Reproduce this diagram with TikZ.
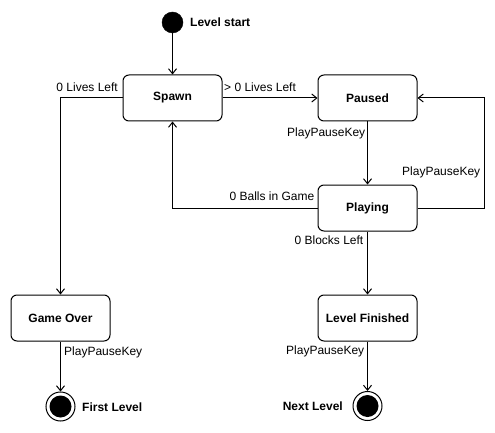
\documentclass[tikz,border=0pt]{standalone}
\usepackage{fontspec}
\setmainfont{Liberation Sans}
\usetikzlibrary{arrows.meta}
\begin{document}
\begin{tikzpicture}[x=1pt,y=-1pt,
  state/.style={draw, rounded corners=6pt, minimum width=99pt, minimum height=46pt,
    font=\fontsize{12}{14}\selectfont\bfseries, line width=1pt, inner sep=0pt},
  lbl/.style={font=\fontsize{12}{14}\selectfont, inner sep=0pt},
  blbl/.style={font=\fontsize{12}{14}\selectfont\bfseries, inner sep=0pt},
  arr/.style={-{Straight Barb[length=5pt,width=8pt]}, line width=1pt},
  initial/.style={circle, fill=black, draw=black, minimum size=21pt, inner sep=0pt},
  final/.style={circle, draw, line width=1pt, minimum size=29pt, inner sep=0pt,
    path picture={\fill[black] (path picture bounding box.center) circle (11pt);}}]
\useasboundingbox (0,0) rectangle (495,433);

\node[initial] (start) at (172.5,22.5) {};
\node[state] (spawn) at (172.5,98) {Spawn};
\node[state] (paused) at (367.5,98) {Paused};
\node[state] (playing) at (367.5,208) {Playing};
\node[state] (gameover) at (60.5,318) {Game Over};
\node[state] (finished) at (367.5,318) {Level Finished};
\node[final] (first) at (60.5,406.5) {};
\node[final] (next) at (367.5,406) {};

\draw[arr] (start) -- (spawn);
\draw[arr] (spawn.west) -| (gameover.north);
\draw[arr] (spawn) -- (paused);
\draw[arr] (paused) -- (playing);
\draw[arr] (playing.east) -- ++(67,0) |- (paused.east);
\draw[arr] (playing.west) -| (spawn.south);
\draw[arr] (playing) -- (finished);
\draw[arr] (gameover) -- (first);
\draw[arr] (finished) -- (next);

\node[blbl, anchor=base west] (lstart) at (190,27) {Level start};
\node[lbl, anchor=base east] (l1) at (118,92) {0 Lives Left};
\node[lbl, anchor=base west] (l2) at (224,92) {> 0 Lives Left};
\node[lbl, anchor=base west] (l3) at (287,136) {PlayPauseKey};
\node[lbl, anchor=base west] (l4) at (402,175) {PlayPauseKey};
\node[lbl, anchor=base east] (l5) at (314.5,200.7) {0 Balls in Game};
\node[lbl, anchor=base east] (l6) at (363.5,244.3) {0 Blocks Left};
\node[lbl, anchor=base west] (l7) at (64,355) {PlayPauseKey};
\node[lbl, anchor=base west] (l8) at (286,354.5) {PlayPauseKey};
\node[blbl, anchor=base west] (l9) at (82,411) {First Level};
\node[blbl, anchor=base east] (l10) at (343,410) {Next Level};
\end{tikzpicture}
\end{document}
